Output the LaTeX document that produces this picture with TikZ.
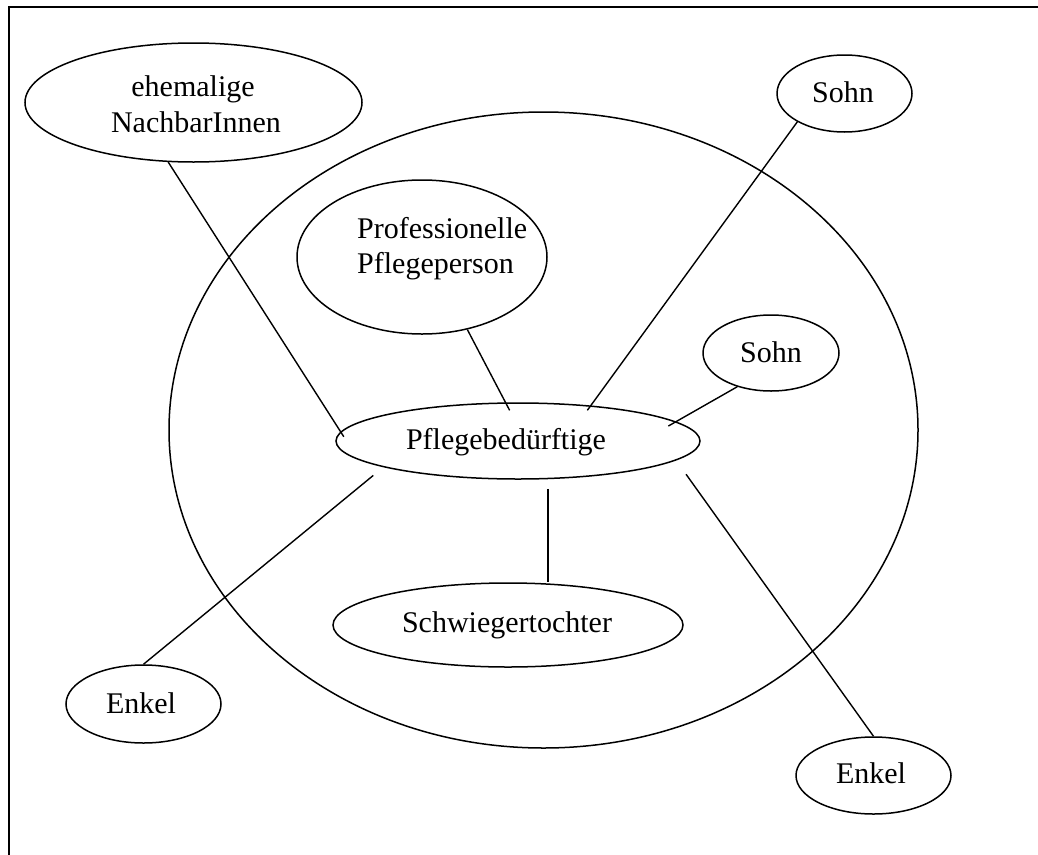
\documentclass[tikz,border=0pt]{standalone}
\usepackage{fontspec}
\setmainfont{Liberation Serif}
\usetikzlibrary{shapes.geometric}
\begin{document}
\begin{tikzpicture}[x=1pt,y=-1pt,
  ell/.style={draw, ellipse, line width=1.5pt, inner sep=0pt},
  lbl/.style={font=\fontsize{30}{35}\selectfont, inner sep=0pt, anchor=base},
  conn/.style={line width=1.4pt}]
\useasboundingbox (0,0) rectangle (1038,854);
\draw[line width=1.8pt] (9,870) -- (9,7) -- (1045,7);
% ellipses
\node[ell, minimum width=749pt, minimum height=636pt] (big) at (543.5,430) {};
\node[ell, minimum width=337pt, minimum height=119pt] (neh) at (193.5,102.5) {};
\node[ell, minimum width=135pt, minimum height=77pt] (sohna) at (844.5,93.5) {};
\node[ell, minimum width=250pt, minimum height=154pt] (prof) at (422,257) {};
\node[ell, minimum width=136pt, minimum height=76pt] (sohnb) at (771,353) {};
\node[ell, minimum width=364pt, minimum height=76pt] (pb) at (518,441) {};
\node[ell, minimum width=350pt, minimum height=84pt] (schw) at (508,625) {};
\node[ell, minimum width=155pt, minimum height=78pt] (enka) at (143.5,704) {};
\node[ell, minimum width=155pt, minimum height=77pt] (enkb) at (873.5,775.5) {};
% labels
\node[lbl] (neh1) at (193,96) {ehemalige};
\node[lbl] (neh2) at (196,132) {NachbarInnen};
\node[lbl, anchor=base west] (prof1) at (357,238) {Professionelle};
\node[lbl, anchor=base west] (prof2) at (357,273) {Pflegeperson};
\node[lbl] (sohnat) at (843,102) {Sohn};
\node[lbl] (sohnbt) at (771,362) {Sohn};
\node[lbl] (pbt) at (506,449) {Pflegebedürftige};
\node[lbl] (schwt) at (507,632) {Schwiegertochter};
\node[lbl] (enkat) at (141,713) {Enkel};
\node[lbl] (enkbt) at (871,783) {Enkel};
% connectors
\draw[conn, shorten >=-6pt] (neh.-113) -- (pb.177.2);
\draw[conn, shorten >=-9pt] (prof.-58) -- (pb.108.9);
\draw[conn, shorten >=-6pt] (sohna.-149) -- (pb.26);
\draw[conn, shorten >=-9pt] (sohnb.-135) -- (pb.7.9);
\coordinate (pbs) at ([xshift=30pt,yshift=-9pt]pb.south);
\draw[conn] (pbs) -- (pbs |- schw.north);
\draw[conn, shorten <=13pt] (pb.-169.3) -- (enka.north);
\draw[conn, shorten <=17pt] (pb.-7.9) -- (enkb.north);
\end{tikzpicture}
\end{document}
